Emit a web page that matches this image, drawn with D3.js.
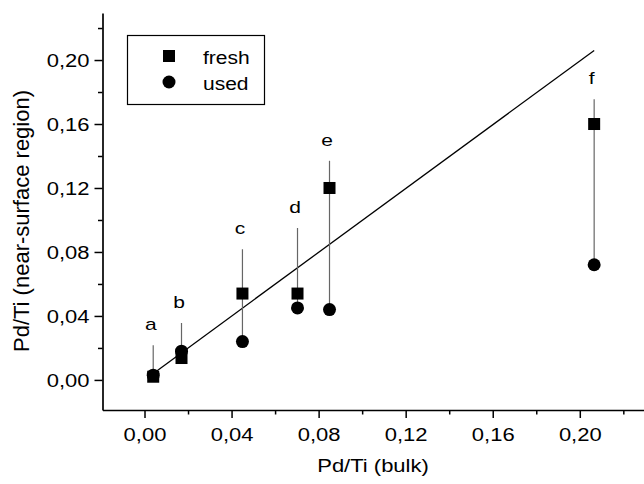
<!DOCTYPE html>
<html>
<head>
<meta charset="utf-8">
<script src="https://cdn.jsdelivr.net/npm/d3@7"></script>
<style>
  body { margin: 0; background: #fff; }
  svg { display: block; font-family: Arial, "Liberation Sans", sans-serif; }
</style>
</head>
<body>
<svg id="chart" width="644" height="484"></svg>
<script>
'use strict';

// values
var samples = ['a', 'b', 'c', 'd', 'e', 'f'];
var bulk = [0.004, 0.017, 0.045, 0.0703, 0.085, 0.2066];
var fresh = [0.002, 0.0137, 0.054, 0.054, 0.120, 0.160];
var used = [0.003, 0.018, 0.024, 0.045, 0.044, 0.072];
var barTop = [0.0217, 0.0356, 0.0817, 0.095, 0.137, 0.1754];
var fitX = [0.005, 0.2066];
var fitY = [0.005, 0.206];
var majorTicks = [0, 0.04, 0.08, 0.12, 0.16, 0.20];
var minorTicks = [0.02, 0.06, 0.10, 0.14, 0.18, 0.22];

var svg = d3.select('#chart');

var x = d3.scaleLinear().domain([-0.0193, 0.2295]).range([102.5, 644]);
var y = d3.scaleLinear().domain([-0.0188, 0.2294]).range([410, 13]);

var fmt = function (d) { return d3.format('.2f')(d).replace('.', ','); };
var squash = 'scale(1,0.8)';

// axes, major ticks with labels
var xAxis = svg.append('g')
  .attr('transform', 'translate(0,410)')
  .call(d3.axisBottom(x).tickValues(majorTicks).tickSize(8).tickSizeOuter(0).tickFormat(fmt));
var yAxis = svg.append('g')
  .attr('transform', 'translate(102.5,0)')
  .call(d3.axisLeft(y).tickValues(majorTicks).tickSize(8).tickSizeOuter(0).tickFormat(fmt));

// minor ticks
svg.append('g')
  .attr('transform', 'translate(0,410)')
  .call(d3.axisBottom(x).tickValues(minorTicks).tickSize(4.5).tickSizeOuter(0).tickFormat(''))
  .select('.domain').remove();
svg.append('g')
  .attr('transform', 'translate(102.5,0)')
  .call(d3.axisLeft(y).tickValues(minorTicks).tickSize(4.5).tickSizeOuter(0).tickFormat(''))
  .select('.domain').remove();

svg.selectAll('.domain').attr('stroke', '#000').attr('stroke-width', 1.7);
svg.selectAll('.tick line').attr('stroke', '#000').attr('stroke-width', 1.5);

xAxis.selectAll('.tick text')
  .attr('y', null).attr('dy', null)
  .attr('transform', 'translate(0,31) ' + squash)
  .attr('font-size', 22).attr('fill', '#000')
  .attr('font-family', 'Arial, "Liberation Sans", sans-serif');
yAxis.selectAll('.tick text')
  .attr('x', null).attr('dy', null)
  .attr('transform', 'translate(-13,6.5) ' + squash)
  .attr('font-size', 22).attr('fill', '#000')
  .attr('font-family', 'Arial, "Liberation Sans", sans-serif');

// axis titles
svg.append('text')
  .attr('transform', 'translate(373,472) ' + squash)
  .attr('text-anchor', 'middle')
  .attr('font-size', 22)
  .text('Pd/Ti (bulk)');
svg.append('text')
  .attr('transform', 'translate(29,221) rotate(-90)')
  .attr('text-anchor', 'middle')
  .attr('font-size', 22)
  .text('Pd/Ti (near-surface region)');

// fitted line
var fit = fitX.map(function (d, i) { return [d, fitY[i]]; });
svg.append('path')
  .datum(fit)
  .attr('d', d3.line().x(function (d) { return x(d[0]); }).y(function (d) { return y(d[1]); }))
  .attr('stroke', '#000')
  .attr('stroke-width', 1.3)
  .attr('fill', 'none');

var idx = d3.range(samples.length);

// vertical bars from top down to lowest point
svg.append('g').selectAll('line')
  .data(idx)
  .join('line')
  .attr('x1', function (i) { return x(bulk[i]); })
  .attr('x2', function (i) { return x(bulk[i]); })
  .attr('y1', function (i) { return y(barTop[i]); })
  .attr('y2', function (i) { return y(Math.min(fresh[i], used[i])); })
  .attr('stroke', '#666')
  .attr('stroke-width', 1.2);

// sample letters
svg.append('g').selectAll('text')
  .data(idx)
  .join('text')
  .attr('transform', function (i) {
    return 'translate(' + (x(bulk[i]) - 2.5) + ',' + (y(barTop[i]) - 15) + ') ' + squash;
  })
  .attr('text-anchor', 'middle')
  .attr('font-size', 21)
  .text(function (i) { return samples[i]; });

// fresh squares
svg.append('g').selectAll('rect')
  .data(idx)
  .join('rect')
  .attr('x', function (i) { return x(bulk[i]) - 6; })
  .attr('y', function (i) { return y(fresh[i]) - 6; })
  .attr('width', 12)
  .attr('height', 12)
  .attr('fill', '#000');

// used circles
svg.append('g').selectAll('circle')
  .data(idx)
  .join('circle')
  .attr('cx', function (i) { return x(bulk[i]); })
  .attr('cy', function (i) { return y(used[i]); })
  .attr('r', 6.5)
  .attr('fill', '#000');

// legend
var legend = svg.append('g');
legend.append('rect')
  .attr('x', 127.5).attr('y', 35.5)
  .attr('width', 137).attr('height', 69)
  .attr('fill', 'none').attr('stroke', '#000').attr('stroke-width', 1.2);
legend.append('rect')
  .attr('x', 163).attr('y', 50).attr('width', 12).attr('height', 12).attr('fill', '#000');
legend.append('circle')
  .attr('cx', 169).attr('cy', 82).attr('r', 6.5).attr('fill', '#000');
legend.append('text')
  .attr('transform', 'translate(203,64) scale(1,0.88)')
  .attr('font-size', 21)
  .text('fresh');
legend.append('text')
  .attr('transform', 'translate(203,89.5) scale(1,0.88)')
  .attr('font-size', 21)
  .text('used');
</script>
</body>
</html>
